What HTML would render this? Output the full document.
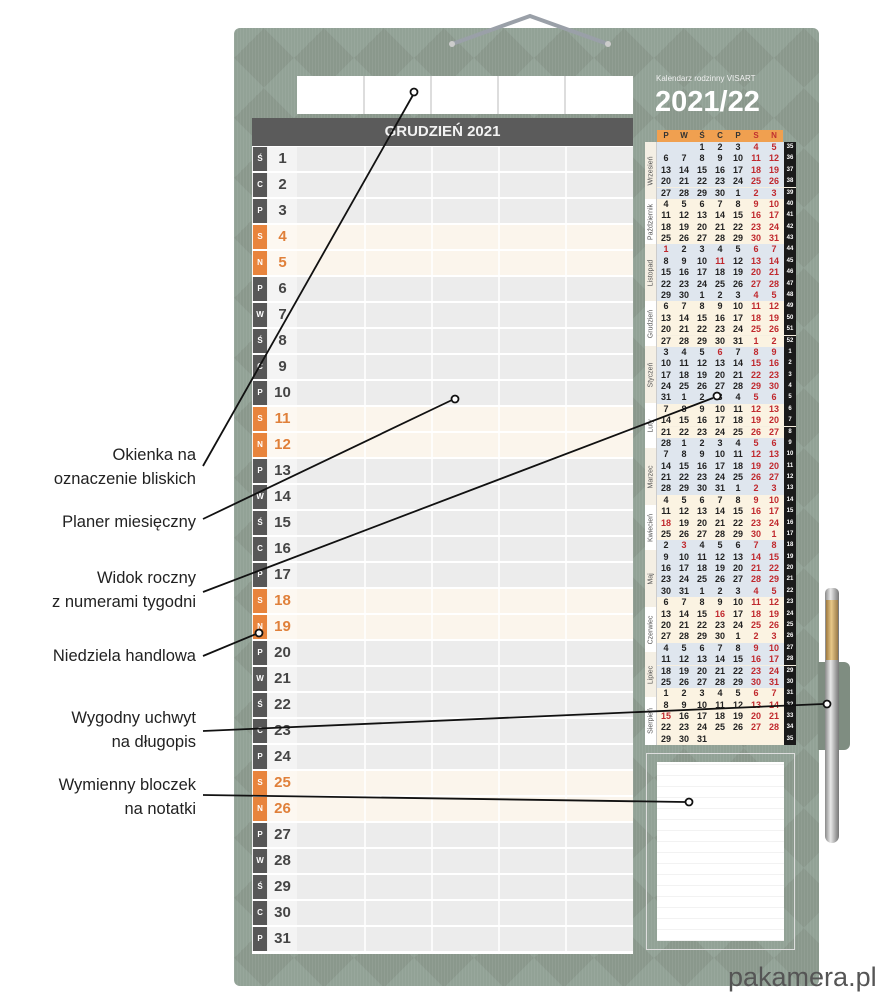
<!DOCTYPE html>
<html><head><meta charset="utf-8"><style>
*{margin:0;padding:0;box-sizing:border-box}
body{width:877px;height:1000px;background:#fff;position:relative;overflow:hidden;font-family:"Liberation Sans","DejaVu Sans",sans-serif}
.board{position:absolute;left:234px;top:28px;width:585px;height:958px;border-radius:6px;background:#8a988c;
background-image:repeating-linear-gradient(90deg,rgba(255,255,255,.06) 0 1px,transparent 1px 3px),
linear-gradient(45deg,rgba(160,180,170,.35) 25%,transparent 25%,transparent 75%,rgba(160,180,170,.35) 75%),
linear-gradient(-45deg,rgba(160,180,170,.35) 25%,transparent 25%,transparent 75%,rgba(160,180,170,.35) 75%);
background-size:auto,60px 60px,60px 60px}
.ab{position:absolute}
.tb{position:absolute;top:76px;height:38px;background:#fff;border-right:2px solid #ddd}
.hdr{position:absolute;left:252px;top:118px;width:381px;height:28px;background:#5b5b5b;color:#f2f2f2;font-weight:bold;font-size:15px;text-align:center;line-height:28px}
.row{position:absolute;left:252px;width:381px;height:24px;background:#ececec}
.row.we{background:#fbf5ec}
.row .l{position:absolute;left:1px;top:0;width:14px;height:24px;background:#575757;color:#fff;font-size:8px;font-weight:bold;text-align:center;line-height:24px}
.row.we .l{background:#e8843c}
.row .n{position:absolute;left:16px;top:0;width:29px;height:24px;background:#f4f4f4;color:#454545;font-size:15px;font-weight:bold;text-align:center;line-height:24px}
.row.we .n{color:#e0803a;background:#fdf8f1}
.mc{position:absolute;left:645px;top:130px;width:151px}
.mh{position:absolute;left:12px;top:0;width:126px;height:12px;background:#f0a050;display:flex;font-size:8px;font-weight:bold;color:#333}
.mh span{flex:1;text-align:center;line-height:12px}
.mh .x{color:#c03030}
.r{position:absolute;left:12px;width:139px;height:11.38px;display:flex;font-size:9px;font-weight:bold;color:#222}
.r b{width:18px;text-align:center;line-height:11.38px}
.r b.x{color:#c0282d}
.r s{text-decoration:none;width:12px;margin-left:1px;background:#1a1a1a;color:#fff;font-size:6px;text-align:center;line-height:11px}
.o{background:#fbf3e2}.u{background:#dfe6ee}
.mon{position:absolute;left:0;width:12px;background:#f4efe4;border-right:1px solid #ccc;}
.mon span{position:absolute;left:50%;top:50%;transform:translate(-50%,-50%) rotate(-90deg);font-size:7px;color:#555;white-space:nowrap}
.lbl{position:absolute;right:681px;font-size:16.5px;color:#222;text-align:right;line-height:24px;white-space:nowrap}
</style></head><body>
<div class="board"></div>
<svg class="ab" style="left:440px;top:10px" width="180" height="50"><path d="M12 34 L90 6 L168 34" fill="none" stroke="#9aa0a8" stroke-width="4"/><circle cx="12" cy="34" r="3" fill="#ccc"/><circle cx="168" cy="34" r="3" fill="#ccc"/></svg>
<div class="tb" style="left:297px;width:68px"></div><div class="tb" style="left:365px;width:67px"></div><div class="tb" style="left:432px;width:67px"></div><div class="tb" style="left:499px;width:67px"></div><div class="tb" style="left:566px;width:67px;border-right:none"></div>
<div class="hdr">GRUDZIEŃ 2021</div>
<div class="ab" style="left:252px;top:146px;width:381px;height:808px;background:#fff"></div>
<div class="row" style="top:147px"><div class="l">Ś</div><div class="n">1</div></div>
<div class="row" style="top:173px"><div class="l">C</div><div class="n">2</div></div>
<div class="row" style="top:199px"><div class="l">P</div><div class="n">3</div></div>
<div class="row we" style="top:225px"><div class="l">S</div><div class="n">4</div></div>
<div class="row we" style="top:251px"><div class="l">N</div><div class="n">5</div></div>
<div class="row" style="top:277px"><div class="l">P</div><div class="n">6</div></div>
<div class="row" style="top:303px"><div class="l">W</div><div class="n">7</div></div>
<div class="row" style="top:329px"><div class="l">Ś</div><div class="n">8</div></div>
<div class="row" style="top:355px"><div class="l">C</div><div class="n">9</div></div>
<div class="row" style="top:381px"><div class="l">P</div><div class="n">10</div></div>
<div class="row we" style="top:407px"><div class="l">S</div><div class="n">11</div></div>
<div class="row we" style="top:433px"><div class="l">N</div><div class="n">12</div></div>
<div class="row" style="top:459px"><div class="l">P</div><div class="n">13</div></div>
<div class="row" style="top:485px"><div class="l">W</div><div class="n">14</div></div>
<div class="row" style="top:511px"><div class="l">Ś</div><div class="n">15</div></div>
<div class="row" style="top:537px"><div class="l">C</div><div class="n">16</div></div>
<div class="row" style="top:563px"><div class="l">P</div><div class="n">17</div></div>
<div class="row we" style="top:589px"><div class="l">S</div><div class="n">18</div></div>
<div class="row we" style="top:615px"><div class="l">N</div><div class="n">19</div></div>
<div class="row" style="top:641px"><div class="l">P</div><div class="n">20</div></div>
<div class="row" style="top:667px"><div class="l">W</div><div class="n">21</div></div>
<div class="row" style="top:693px"><div class="l">Ś</div><div class="n">22</div></div>
<div class="row" style="top:719px"><div class="l">C</div><div class="n">23</div></div>
<div class="row" style="top:745px"><div class="l">P</div><div class="n">24</div></div>
<div class="row we" style="top:771px"><div class="l">S</div><div class="n">25</div></div>
<div class="row we" style="top:797px"><div class="l">N</div><div class="n">26</div></div>
<div class="row" style="top:823px"><div class="l">P</div><div class="n">27</div></div>
<div class="row" style="top:849px"><div class="l">W</div><div class="n">28</div></div>
<div class="row" style="top:875px"><div class="l">Ś</div><div class="n">29</div></div>
<div class="row" style="top:901px"><div class="l">C</div><div class="n">30</div></div>
<div class="row" style="top:927px"><div class="l">P</div><div class="n">31</div></div>
<div class="ab" style="left:364px;top:146px;width:2px;height:806px;background:rgba(255,255,255,.8)"></div>
<div class="ab" style="left:431px;top:146px;width:2px;height:806px;background:rgba(255,255,255,.8)"></div>
<div class="ab" style="left:498px;top:146px;width:2px;height:806px;background:rgba(255,255,255,.8)"></div>
<div class="ab" style="left:565px;top:146px;width:2px;height:806px;background:rgba(255,255,255,.8)"></div>
<div class="ab" style="left:656px;top:74px;font-size:8px;color:#f0f0f0">Kalendarz rodzinny VISART</div>
<div class="ab" style="left:655px;top:86px;font-size:29px;font-weight:bold;color:#fff">2021/22</div>
<div class="mc">
<div class="mh"><span>P</span><span>W</span><span>Ś</span><span>C</span><span>P</span><span class="x">S</span><span class="x">N</span></div>
<div class="ab" style="left:0;top:12px;width:151px;height:603px;background:#f6efe0"></div>
<div class="mon" style="top:12px;height:57px"><span>Wrzesień</span></div>
<div class="mon" style="top:69px;height:45px;background:#fff"><span>Październik</span></div>
<div class="mon" style="top:114px;height:57px"><span>Listopad</span></div>
<div class="mon" style="top:171px;height:45px;background:#fff"><span>Grudzień</span></div>
<div class="mon" style="top:216px;height:57px"><span>Styczeń</span></div>
<div class="mon" style="top:273px;height:45px;background:#fff"><span>Luty</span></div>
<div class="mon" style="top:318px;height:57px"><span>Marzec</span></div>
<div class="mon" style="top:375px;height:45px;background:#fff"><span>Kwiecień</span></div>
<div class="mon" style="top:420px;height:57px"><span>Maj</span></div>
<div class="mon" style="top:477px;height:45px;background:#fff"><span>Czerwiec</span></div>
<div class="mon" style="top:522px;height:45px"><span>Lipiec</span></div>
<div class="mon" style="top:567px;height:48px;background:#fff"><span>Sierpień</span></div>
<div class="r u" style="top:12.0px"><b></b><b></b><b>1</b><b>2</b><b>3</b><b class=x>4</b><b class=x>5</b><s>35</s></div>
<div class="r u" style="top:23.4px"><b>6</b><b>7</b><b>8</b><b>9</b><b>10</b><b class=x>11</b><b class=x>12</b><s>36</s></div>
<div class="r u" style="top:34.8px"><b>13</b><b>14</b><b>15</b><b>16</b><b>17</b><b class=x>18</b><b class=x>19</b><s>37</s></div>
<div class="r u" style="top:46.1px"><b>20</b><b>21</b><b>22</b><b>23</b><b>24</b><b class=x>25</b><b class=x>26</b><s>38</s></div>
<div class="r u" style="top:57.5px"><b>27</b><b>28</b><b>29</b><b>30</b><b>1</b><b class=x>2</b><b class=x>3</b><s>39</s></div>
<div class="r o" style="top:68.9px"><b>4</b><b>5</b><b>6</b><b>7</b><b>8</b><b class=x>9</b><b class=x>10</b><s>40</s></div>
<div class="r o" style="top:80.3px"><b>11</b><b>12</b><b>13</b><b>14</b><b>15</b><b class=x>16</b><b class=x>17</b><s>41</s></div>
<div class="r o" style="top:91.7px"><b>18</b><b>19</b><b>20</b><b>21</b><b>22</b><b class=x>23</b><b class=x>24</b><s>42</s></div>
<div class="r o" style="top:103.0px"><b>25</b><b>26</b><b>27</b><b>28</b><b>29</b><b class=x>30</b><b class=x>31</b><s>43</s></div>
<div class="r u" style="top:114.4px"><b class=x>1</b><b>2</b><b>3</b><b>4</b><b>5</b><b class=x>6</b><b class=x>7</b><s>44</s></div>
<div class="r u" style="top:125.8px"><b>8</b><b>9</b><b>10</b><b class=x>11</b><b>12</b><b class=x>13</b><b class=x>14</b><s>45</s></div>
<div class="r u" style="top:137.2px"><b>15</b><b>16</b><b>17</b><b>18</b><b>19</b><b class=x>20</b><b class=x>21</b><s>46</s></div>
<div class="r u" style="top:148.6px"><b>22</b><b>23</b><b>24</b><b>25</b><b>26</b><b class=x>27</b><b class=x>28</b><s>47</s></div>
<div class="r u" style="top:159.9px"><b>29</b><b>30</b><b>1</b><b>2</b><b>3</b><b class=x>4</b><b class=x>5</b><s>48</s></div>
<div class="r o" style="top:171.3px"><b>6</b><b>7</b><b>8</b><b>9</b><b>10</b><b class=x>11</b><b class=x>12</b><s>49</s></div>
<div class="r o" style="top:182.7px"><b>13</b><b>14</b><b>15</b><b>16</b><b>17</b><b class=x>18</b><b class=x>19</b><s>50</s></div>
<div class="r o" style="top:194.1px"><b>20</b><b>21</b><b>22</b><b>23</b><b>24</b><b class=x>25</b><b class=x>26</b><s>51</s></div>
<div class="r o" style="top:205.5px"><b>27</b><b>28</b><b>29</b><b>30</b><b>31</b><b class=x>1</b><b class=x>2</b><s>52</s></div>
<div class="r u" style="top:216.8px"><b>3</b><b>4</b><b>5</b><b class=x>6</b><b>7</b><b class=x>8</b><b class=x>9</b><s>1</s></div>
<div class="r u" style="top:228.2px"><b>10</b><b>11</b><b>12</b><b>13</b><b>14</b><b class=x>15</b><b class=x>16</b><s>2</s></div>
<div class="r u" style="top:239.6px"><b>17</b><b>18</b><b>19</b><b>20</b><b>21</b><b class=x>22</b><b class=x>23</b><s>3</s></div>
<div class="r u" style="top:251.0px"><b>24</b><b>25</b><b>26</b><b>27</b><b>28</b><b class=x>29</b><b class=x>30</b><s>4</s></div>
<div class="r u" style="top:262.4px"><b>31</b><b>1</b><b>2</b><b>3</b><b>4</b><b class=x>5</b><b class=x>6</b><s>5</s></div>
<div class="r o" style="top:273.7px"><b>7</b><b>8</b><b>9</b><b>10</b><b>11</b><b class=x>12</b><b class=x>13</b><s>6</s></div>
<div class="r o" style="top:285.1px"><b>14</b><b>15</b><b>16</b><b>17</b><b>18</b><b class=x>19</b><b class=x>20</b><s>7</s></div>
<div class="r o" style="top:296.5px"><b>21</b><b>22</b><b>23</b><b>24</b><b>25</b><b class=x>26</b><b class=x>27</b><s>8</s></div>
<div class="r u" style="top:307.9px"><b>28</b><b>1</b><b>2</b><b>3</b><b>4</b><b class=x>5</b><b class=x>6</b><s>9</s></div>
<div class="r u" style="top:319.3px"><b>7</b><b>8</b><b>9</b><b>10</b><b>11</b><b class=x>12</b><b class=x>13</b><s>10</s></div>
<div class="r u" style="top:330.6px"><b>14</b><b>15</b><b>16</b><b>17</b><b>18</b><b class=x>19</b><b class=x>20</b><s>11</s></div>
<div class="r u" style="top:342.0px"><b>21</b><b>22</b><b>23</b><b>24</b><b>25</b><b class=x>26</b><b class=x>27</b><s>12</s></div>
<div class="r u" style="top:353.4px"><b>28</b><b>29</b><b>30</b><b>31</b><b>1</b><b class=x>2</b><b class=x>3</b><s>13</s></div>
<div class="r o" style="top:364.8px"><b>4</b><b>5</b><b>6</b><b>7</b><b>8</b><b class=x>9</b><b class=x>10</b><s>14</s></div>
<div class="r o" style="top:376.2px"><b>11</b><b>12</b><b>13</b><b>14</b><b>15</b><b class=x>16</b><b class=x>17</b><s>15</s></div>
<div class="r o" style="top:387.5px"><b class=x>18</b><b>19</b><b>20</b><b>21</b><b>22</b><b class=x>23</b><b class=x>24</b><s>16</s></div>
<div class="r o" style="top:398.9px"><b>25</b><b>26</b><b>27</b><b>28</b><b>29</b><b class=x>30</b><b class=x>1</b><s>17</s></div>
<div class="r u" style="top:410.3px"><b>2</b><b class=x>3</b><b>4</b><b>5</b><b>6</b><b class=x>7</b><b class=x>8</b><s>18</s></div>
<div class="r u" style="top:421.7px"><b>9</b><b>10</b><b>11</b><b>12</b><b>13</b><b class=x>14</b><b class=x>15</b><s>19</s></div>
<div class="r u" style="top:433.1px"><b>16</b><b>17</b><b>18</b><b>19</b><b>20</b><b class=x>21</b><b class=x>22</b><s>20</s></div>
<div class="r u" style="top:444.4px"><b>23</b><b>24</b><b>25</b><b>26</b><b>27</b><b class=x>28</b><b class=x>29</b><s>21</s></div>
<div class="r u" style="top:455.8px"><b>30</b><b>31</b><b>1</b><b>2</b><b>3</b><b class=x>4</b><b class=x>5</b><s>22</s></div>
<div class="r o" style="top:467.2px"><b>6</b><b>7</b><b>8</b><b>9</b><b>10</b><b class=x>11</b><b class=x>12</b><s>23</s></div>
<div class="r o" style="top:478.6px"><b>13</b><b>14</b><b>15</b><b class=x>16</b><b>17</b><b class=x>18</b><b class=x>19</b><s>24</s></div>
<div class="r o" style="top:490.0px"><b>20</b><b>21</b><b>22</b><b>23</b><b>24</b><b class=x>25</b><b class=x>26</b><s>25</s></div>
<div class="r o" style="top:501.3px"><b>27</b><b>28</b><b>29</b><b>30</b><b>1</b><b class=x>2</b><b class=x>3</b><s>26</s></div>
<div class="r u" style="top:512.7px"><b>4</b><b>5</b><b>6</b><b>7</b><b>8</b><b class=x>9</b><b class=x>10</b><s>27</s></div>
<div class="r u" style="top:524.1px"><b>11</b><b>12</b><b>13</b><b>14</b><b>15</b><b class=x>16</b><b class=x>17</b><s>28</s></div>
<div class="r u" style="top:535.5px"><b>18</b><b>19</b><b>20</b><b>21</b><b>22</b><b class=x>23</b><b class=x>24</b><s>29</s></div>
<div class="r u" style="top:546.9px"><b>25</b><b>26</b><b>27</b><b>28</b><b>29</b><b class=x>30</b><b class=x>31</b><s>30</s></div>
<div class="r o" style="top:558.2px"><b>1</b><b>2</b><b>3</b><b>4</b><b>5</b><b class=x>6</b><b class=x>7</b><s>31</s></div>
<div class="r o" style="top:569.6px"><b>8</b><b>9</b><b>10</b><b>11</b><b>12</b><b class=x>13</b><b class=x>14</b><s>32</s></div>
<div class="r o" style="top:581.0px"><b class=x>15</b><b>16</b><b>17</b><b>18</b><b>19</b><b class=x>20</b><b class=x>21</b><s>33</s></div>
<div class="r o" style="top:592.4px"><b>22</b><b>23</b><b>24</b><b>25</b><b>26</b><b class=x>27</b><b class=x>28</b><s>34</s></div>
<div class="r o" style="top:603.8px"><b>29</b><b>30</b><b>31</b><b></b><b></b><b></b><b></b><s>35</s></div>
</div>
<div class="ab" style="left:646px;top:753px;width:149px;height:197px;background:#fff;border:1px solid #ddd;
background-image:repeating-linear-gradient(180deg,transparent 0 10px,#f2f2f2 10px 11px);background-clip:content-box;padding:8px 10px"></div>
<div class="ab" style="left:818px;top:662px;width:32px;height:88px;background:#7f8d81;border-radius:0 6px 6px 0"></div>
<div class="ab" style="left:825px;top:588px;width:14px;height:255px;border-radius:5px 5px 7px 7px;background:linear-gradient(90deg,#8a8a8a,#e8e8e8 40%,#9a9a9a 80%,#777)"></div>
<div class="ab" style="left:826px;top:600px;width:12px;height:60px;background:linear-gradient(90deg,#a07a40,#e8c888 45%,#9a7a48)"></div>
<svg class="ab" style="left:0;top:0" width="877" height="1000">
<g stroke="#111" stroke-width="1.8" fill="none">
<line x1="203" y1="466" x2="413" y2="95"/>
<line x1="203" y1="519" x2="452" y2="400"/>
<line x1="203" y1="592" x2="713" y2="398"/>
<line x1="203" y1="656" x2="256" y2="634"/>
<line x1="203" y1="731" x2="823" y2="704"/>
<line x1="203" y1="795" x2="685" y2="802"/>
</g>
<g stroke="#111" stroke-width="1.8" fill="#fff">
<circle cx="414" cy="92" r="3.5"/><circle cx="455" cy="399" r="3.5"/><circle cx="717" cy="396" r="3.5"/>
<circle cx="259" cy="633" r="3.5"/><circle cx="827" cy="704" r="3.5"/><circle cx="689" cy="802" r="3.5"/>
</g></svg>
<div class="lbl" style="top:443px">Okienka na<br>oznaczenie bliskich</div>
<div class="lbl" style="top:510px">Planer miesięczny</div>
<div class="lbl" style="top:566px">Widok roczny<br>z numerami tygodni</div>
<div class="lbl" style="top:644px">Niedziela handlowa</div>
<div class="lbl" style="top:706px">Wygodny uchwyt<br>na długopis</div>
<div class="lbl" style="top:773px">Wymienny bloczek<br>na notatki</div>
<div class="ab" style="left:728px;top:962px;font-size:27px;color:#555">pakamera.pl</div>
</body></html>
